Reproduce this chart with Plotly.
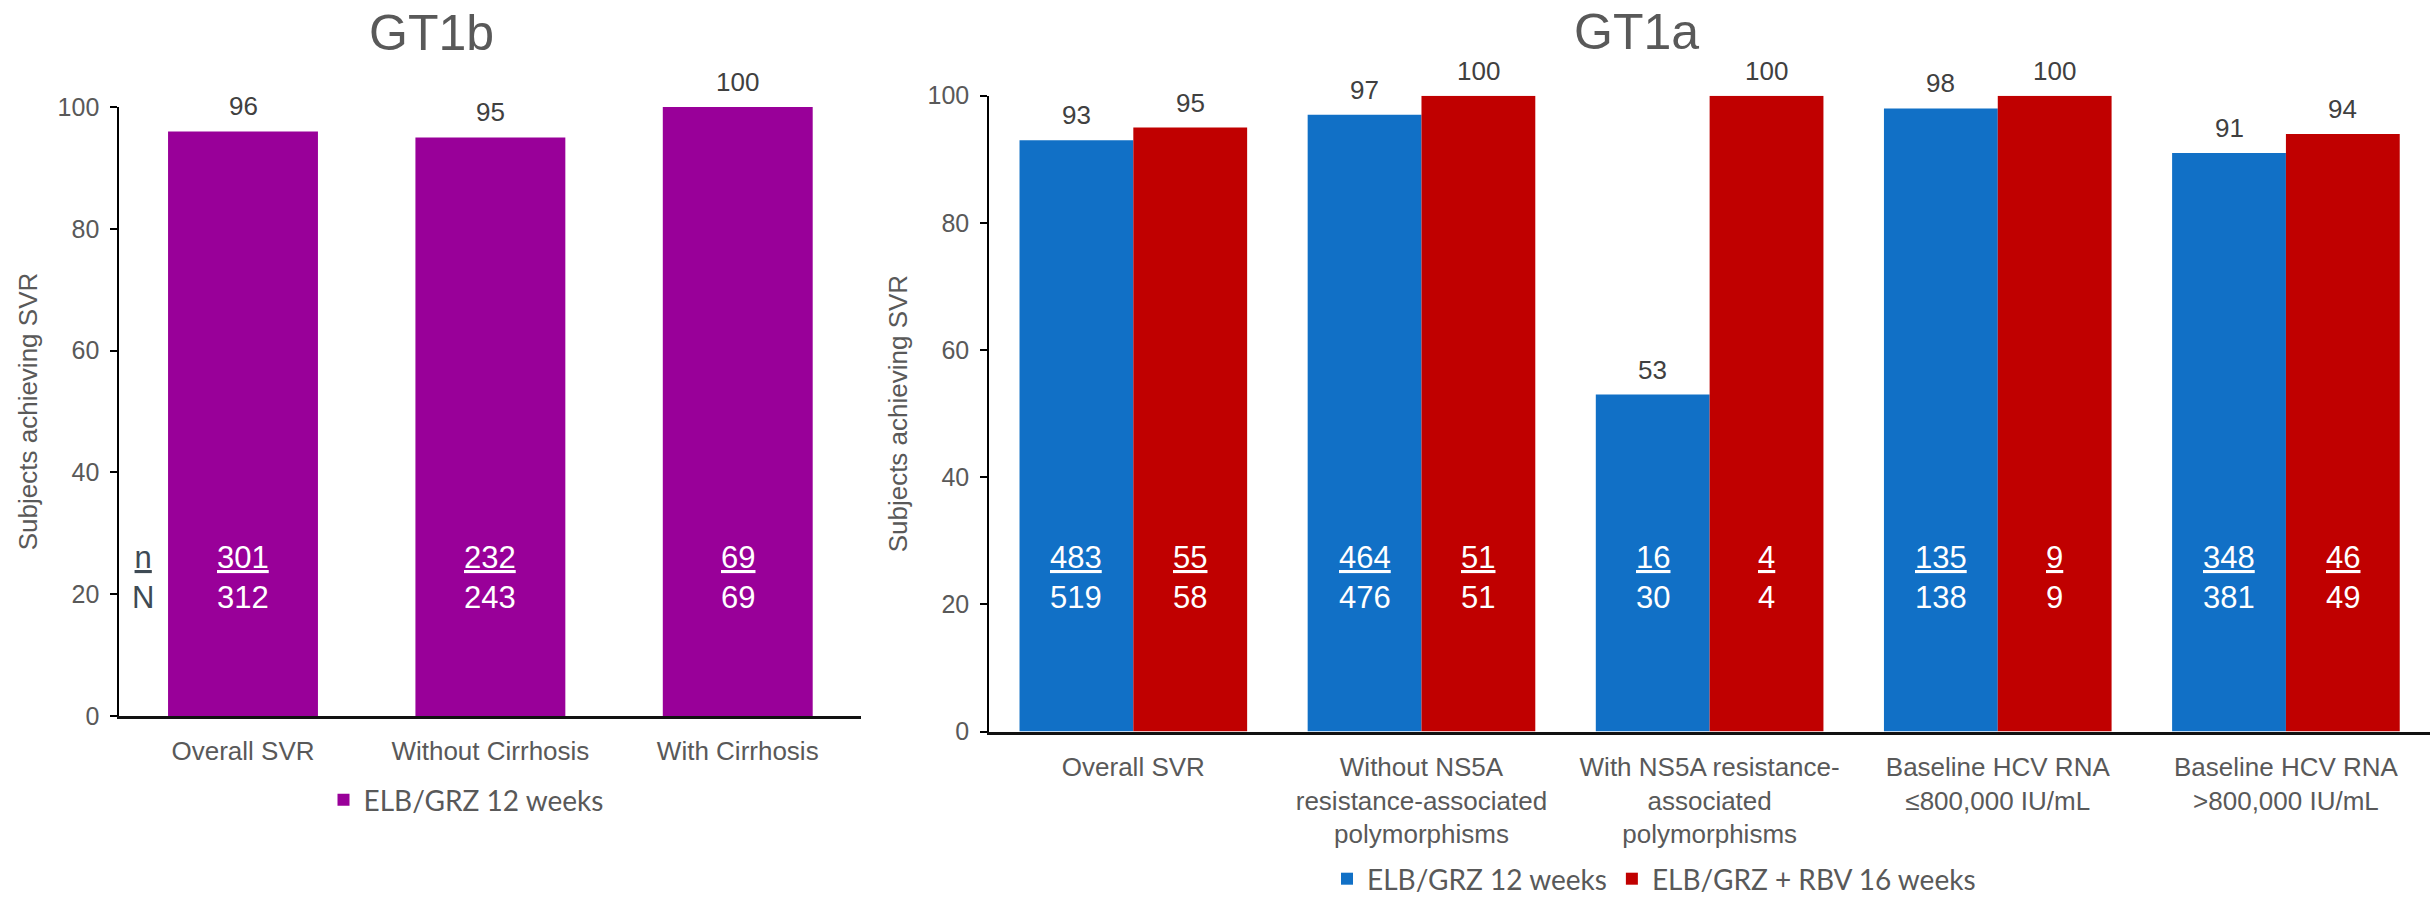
import plotly.graph_objects as go

# ---- data -------------------------------------------------------------
gt1b_categories = ["Overall SVR", "Without Cirrhosis", "With Cirrhosis"]
gt1b_svr = [96, 95, 100]
gt1b_n = [301, 232, 69]
gt1b_N = [312, 243, 69]

gt1a_categories = [
    "Overall SVR",
    "Without NS5A<br>resistance-associated<br>polymorphisms",
    "With NS5A resistance-<br>associated<br>polymorphisms",
    "Baseline HCV RNA<br>≤800,000 IU/mL",
    "Baseline HCV RNA<br>>800,000 IU/mL",
]
gt1a_12wk_svr = [93, 97, 53, 98, 91]
gt1a_12wk_n = [483, 464, 16, 135, 348]
gt1a_12wk_N = [519, 476, 30, 138, 381]
gt1a_rbv_svr = [95, 100, 100, 100, 94]
gt1a_rbv_n = [55, 51, 4, 9, 46]
gt1a_rbv_N = [58, 51, 4, 9, 49]

series_names = ["ELB/GRZ 12 weeks", "ELB/GRZ + RBV 16 weeks"]
y_ticks = [0, 20, 40, 60, 80, 100]

# ---- styling ----------------------------------------------------------
W, H = 2430, 898
FONT = "Liberation Sans, Arial, sans-serif"
LEGEND_FONT = "Lato, sans-serif"
GREY = "#595959"
DARK = "#404040"
PURPLE = "#990099"
BLUE = "#1170C6"
RED = "#C00000"

DOM_L = [0.0491, 0.3545]
DOM_R = [0.4071, 1.0]
DOM_LY = [0.2027, 0.8808]
DOM_RY = [0.1854, 0.8934]

LEFT_BAR_WIDTH = 0.606
BARGAP = 0.21
NN_Y = 1 - 577 / H   # vertical centre of the n/N fraction labels (paper)

fig = go.Figure()

fig.add_trace(go.Bar(
    x=gt1b_categories, y=gt1b_svr, name=series_names[0],
    marker=dict(color=PURPLE, line=dict(width=0)),
    width=LEFT_BAR_WIDTH, xaxis="x", yaxis="y", legend="legend",
    cliponaxis=False, hoverinfo="skip",
))
fig.add_trace(go.Bar(
    x=gt1a_categories, y=gt1a_12wk_svr, name=series_names[0],
    marker=dict(color=BLUE, line=dict(width=0)),
    xaxis="x2", yaxis="y2", legend="legend2",
    cliponaxis=False, hoverinfo="skip",
))
fig.add_trace(go.Bar(
    x=gt1a_categories, y=gt1a_rbv_svr, name=series_names[1],
    marker=dict(color=RED, line=dict(width=0)),
    xaxis="x2", yaxis="y2", legend="legend2",
    cliponaxis=False, hoverinfo="skip",
))

annotations = []


def frac(n, N):
    return f"<span style='text-decoration:underline'>{n}</span><br>{N}"


# GT1b value and n/N labels
for cat, v, n, N in zip(gt1b_categories, gt1b_svr, gt1b_n, gt1b_N):
    annotations.append(dict(x=cat, y=v, xref="x", yref="y", text=str(v),
                            yshift=25, xanchor="center", yanchor="middle",
                            showarrow=False,
                            font=dict(family=FONT, size=26, color=DARK)))
    annotations.append(dict(x=cat, y=NN_Y, xref="x", yref="paper", text=frac(n, N),
                            xanchor="center", yanchor="middle", showarrow=False,
                            font=dict(family=FONT, size=31, color="white")))

# GT1a: bars sit half a bar width either side of the category centre
cat_px = (DOM_R[1] - DOM_R[0]) * W / len(gt1a_categories)
half_bar = cat_px * (1 - BARGAP) / 4
for i, cat in enumerate(gt1a_categories):
    for shift, vals, ns, Ns in (
        (-half_bar, gt1a_12wk_svr, gt1a_12wk_n, gt1a_12wk_N),
        (half_bar, gt1a_rbv_svr, gt1a_rbv_n, gt1a_rbv_N),
    ):
        annotations.append(dict(x=cat, y=vals[i], xref="x2", yref="y2",
                                text=str(vals[i]), xshift=shift, yshift=25,
                                xanchor="center", yanchor="middle", showarrow=False,
                                font=dict(family=FONT, size=26, color=DARK)))
        annotations.append(dict(x=cat, y=NN_Y, xref="x2", yref="paper",
                                text=frac(ns[i], Ns[i]), xshift=shift,
                                xanchor="center", yanchor="middle", showarrow=False,
                                font=dict(family=FONT, size=31, color="white")))

# row key for the fractions
annotations.append(dict(x=143 / W, y=NN_Y, xref="paper", yref="paper",
                        text=frac("n", "N"), xanchor="center", yanchor="middle",
                        showarrow=False,
                        font=dict(family=FONT, size=31, color="#3E4A54")))

# panel titles
annotations.append(dict(x=431 / W, y=1 - 33 / H, xref="paper", yref="paper",
                        text="GT1b", showarrow=False, xanchor="center",
                        yanchor="middle",
                        font=dict(family=FONT, size=50, color=GREY)))
annotations.append(dict(x=1636 / W, y=1 - 32 / H, xref="paper", yref="paper",
                        text="GT1a", showarrow=False, xanchor="center",
                        yanchor="middle",
                        font=dict(family=FONT, size=50, color=GREY)))

xaxis_common = dict(
    type="category", showline=True, linecolor="#111111", linewidth=3,
    ticks="", showgrid=False, zeroline=False, fixedrange=True,
    automargin=False, ticklabelstandoff=10,
    tickfont=dict(family=FONT, size=26, color=GREY),
)
yaxis_common = dict(
    range=[0, 100], tickvals=y_ticks, showline=True, linecolor="black",
    linewidth=2, ticks="outside", ticklen=7, tickwidth=2, tickcolor="black",
    showgrid=False, zeroline=False, fixedrange=True, automargin=False,
    ticklabelstandoff=6,
    tickfont=dict(family=FONT, size=25, color=GREY),
    title=dict(text="Subjects achieving SVR", standoff=12,
               font=dict(family=FONT, size=26, color=GREY)),
)

fig.update_layout(
    template="none",
    width=W, height=H,
    margin=dict(l=0, r=0, t=0, b=0, pad=0, autoexpand=False),
    paper_bgcolor="white", plot_bgcolor="white",
    barmode="group", bargap=BARGAP, bargroupgap=0,
    xaxis=dict(domain=DOM_L, anchor="y", **xaxis_common),
    yaxis=dict(domain=DOM_LY, anchor="x", **yaxis_common),
    xaxis2=dict(domain=DOM_R, anchor="y2", **xaxis_common),
    yaxis2=dict(domain=DOM_RY, anchor="x2", **yaxis_common),
    legend=dict(x=466 / W, y=1 - 800 / H, xanchor="center", yanchor="middle",
                orientation="h", bgcolor="rgba(0,0,0,0)", borderwidth=0,
                font=dict(family=LEGEND_FONT, size=28, color=GREY)),
    legend2=dict(x=1654 / W, y=1 - 879 / H, xanchor="center", yanchor="middle",
                 orientation="h", bgcolor="rgba(0,0,0,0)", borderwidth=0,
                 font=dict(family=LEGEND_FONT, size=28, color=GREY)),
    annotations=annotations,
    showlegend=True,
)

fig.write_html("out.html")
